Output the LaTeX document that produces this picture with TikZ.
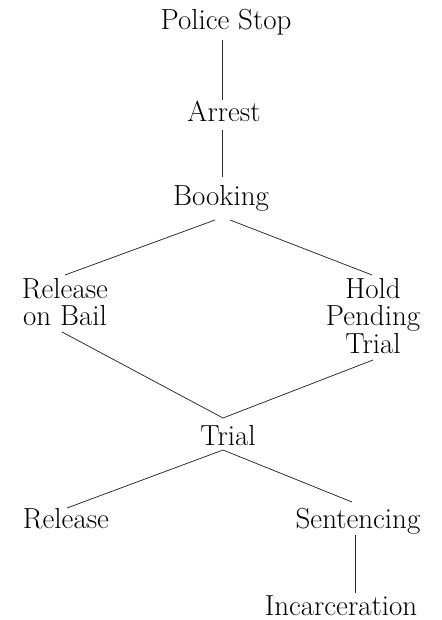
\documentclass[tikz,border=0pt]{standalone}
\begin{document}
\begin{tikzpicture}[x=1pt,y=-1pt,
  lbl/.style={anchor=base,inner sep=0pt,font=\fontsize{29}{25}\selectfont},
  link/.style={line width=0.75pt,black!85}]
\useasboundingbox (0,0) rectangle (441,620);
\node[lbl] (ps) at (226,30) {Police Stop};
\node[lbl] (ar) at (224,122) {Arrest};
\node[lbl] (bk) at (221,205) {Booking};
\node[lbl] (rb) at (65,298) {\begin{tabular}[t]{@{}c@{}}Release\\on Bail\end{tabular}};
\node[lbl] (hp) at (373,298) {\begin{tabular}[t]{@{}c@{}}Hold\\Pending\\Trial\end{tabular}};
\node[lbl] (tr) at (228,445) {Trial};
\node[lbl] (re) at (66,528) {Release};
\node[lbl] (se) at (358,528) {Sentencing};
\node[lbl] (in) at (341,615) {Incarceration};
\draw[link] ([shift={(-4,10)}]ps.base) -- ([shift={(-2,-22)}]ar.base);
\draw[link] ([shift={(-2,8)}]ar.base) -- ([shift={(1,-28)}]bk.base);
\draw[link] ([shift={(-6,15)}]bk.base) -- ([shift={(0,-23)}]rb.base);
\draw[link] ([shift={(9,15)}]bk.base) -- ([shift={(-1,-23)}]hp.base);
\draw[link] ([shift={(-3,34)}]rb.base) -- ([shift={(-5,-27)}]tr.base);
\draw[link] ([shift={(0,62)}]hp.base) -- ([shift={(-5,-27)}]tr.base);
\draw[link] ([shift={(-5,5)}]tr.base) -- ([shift={(1,-20)}]re.base);
\draw[link] ([shift={(-5,5)}]tr.base) -- ([shift={(-6,-26)}]se.base);
\draw[link] ([shift={(-3,7)}]se.base) -- ([shift={(14,-22)}]in.base);
\end{tikzpicture}
\end{document}
